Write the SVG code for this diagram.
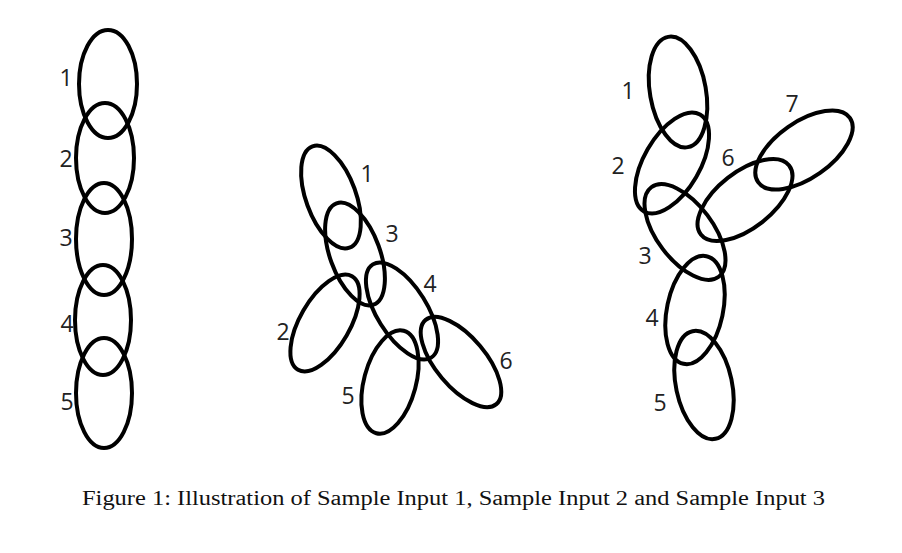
<svg xmlns="http://www.w3.org/2000/svg" width="902" height="553" viewBox="0 0 902 553">
<style>
.r{fill:none;stroke:#000;stroke-width:4}
.l{font-family:"Open Sans","Noto Sans",sans-serif;font-size:23px;fill:#222;text-anchor:middle;dominant-baseline:central}
.cap{font-family:"Liberation Serif",serif;font-size:20px;fill:#111}
</style>
<rect width="902" height="553" fill="#fff"/>
<g id="sample1">
<g id="s1-1"><ellipse class="r" cx="108" cy="84" rx="29" ry="54"/><text class="l" x="66" y="77">1</text></g>
<g id="s1-2"><ellipse class="r" cx="105" cy="158" rx="29" ry="55"/><text class="l" x="66" y="158">2</text></g>
<g id="s1-3"><ellipse class="r" cx="104" cy="239" rx="28" ry="56"/><text class="l" x="66" y="237">3</text></g>
<g id="s1-4"><ellipse class="r" cx="103" cy="320" rx="28" ry="55"/><text class="l" x="67" y="323">4</text></g>
<g id="s1-5"><ellipse class="r" cx="104" cy="393" rx="28" ry="55"/><text class="l" x="67" y="401">5</text></g>
</g>
<g id="sample2">
<g id="s2-1"><ellipse class="r" cx="331" cy="197" rx="25" ry="54" transform="rotate(-20 331 197)"/><text class="l" x="367" y="173">1</text></g>
<g id="s2-3"><ellipse class="r" cx="355" cy="254" rx="25" ry="54" transform="rotate(-20 355 254)"/><text class="l" x="392" y="233">3</text></g>
<g id="s2-2"><ellipse class="r" cx="325" cy="323" rx="25" ry="54" transform="rotate(30 325 323)"/><text class="l" x="283" y="331">2</text></g>
<g id="s2-4"><ellipse class="r" cx="402" cy="311" rx="25" ry="55" transform="rotate(-32 402 311)"/><text class="l" x="430" y="283">4</text></g>
<g id="s2-5"><ellipse class="r" cx="390" cy="382" rx="26" ry="53" transform="rotate(15 390 382)"/><text class="l" x="348" y="395">5</text></g>
<g id="s2-6"><ellipse class="r" cx="461" cy="362" rx="25" ry="55" transform="rotate(-40 461 362)"/><text class="l" x="506" y="360">6</text></g>
</g>
<g id="sample3">
<g id="s3-1"><ellipse class="r" cx="678" cy="92" rx="28" ry="56" transform="rotate(-10 678 92)"/><text class="l" x="628" y="90">1</text></g>
<g id="s3-2"><ellipse class="r" cx="672" cy="163" rx="28" ry="56" transform="rotate(30 672 163)"/><text class="l" x="618" y="165">2</text></g>
<g id="s3-3"><ellipse class="r" cx="685" cy="232" rx="28" ry="56" transform="rotate(-37 685 232)"/><text class="l" x="645" y="255">3</text></g>
<g id="s3-4"><ellipse class="r" cx="695" cy="310" rx="28" ry="55" transform="rotate(12 695 310)"/><text class="l" x="652" y="317">4</text></g>
<g id="s3-5"><ellipse class="r" cx="704" cy="385" rx="28" ry="55" transform="rotate(-12 704 385)"/><text class="l" x="660" y="402">5</text></g>
<g id="s3-6"><ellipse class="r" cx="745" cy="200" rx="28" ry="56" transform="rotate(52 745 200)"/><text class="l" x="728" y="157">6</text></g>
<g id="s3-7"><ellipse class="r" cx="804" cy="150" rx="28" ry="56" transform="rotate(55 804 150)"/><text class="l" x="792" y="103">7</text></g>
</g>
<g id="connectors"/>
<text class="cap" x="82" y="505" textLength="743" lengthAdjust="spacingAndGlyphs">Figure 1: Illustration of Sample Input 1, Sample Input 2 and Sample Input 3</text>
</svg>
